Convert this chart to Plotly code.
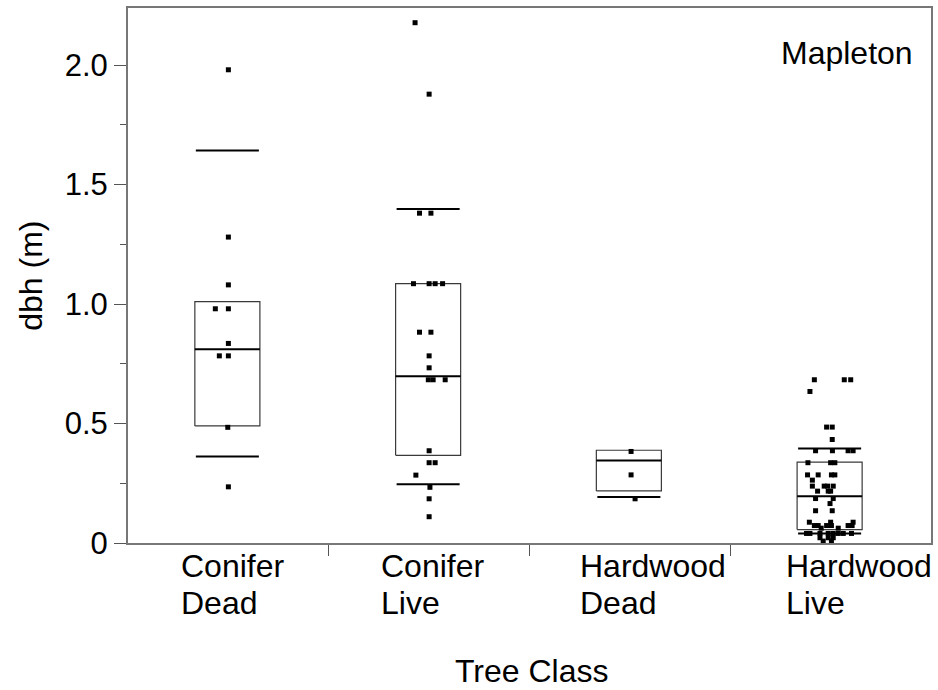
import plotly.graph_objects as go

# ---------------- data ----------------
categories = ["Conifer Dead", "Conifer Live", "Hardwood Dead", "Hardwood Live"]
label_line1 = ["Conifer", "Conifer", "Hardwood", "Hardwood"]
label_line2 = ["Dead", "Live", "Dead", "Live"]

conifer_dead = [1.98, 1.28, 1.08, 0.98, 0.98, 0.835, 0.783, 0.783, 0.484, 0.235]
conifer_dead_jitter = [0.0, 0.0, 0.0, -0.065, 0.0, 0.0, -0.045, 0.0, -0.003, 0.0]

conifer_live = [2.177, 1.878, 1.38, 1.38, 1.085, 1.085, 1.085, 1.085, 0.882, 0.882,
                0.783, 0.733, 0.683, 0.683, 0.683, 0.386, 0.336, 0.336, 0.284,
                0.233, 0.185, 0.11]
conifer_live_jitter = [-0.07, 0.0, -0.048, 0.009, -0.078, 0.0, 0.03, 0.067, -0.048, 0.009,
                       0.0, 0.0, -0.004, 0.02, 0.08, 0.0, 0.0, 0.03, -0.066,
                       0.004, 0.0, 0.0]

hardwood_dead = [0.383, 0.285, 0.185]
hardwood_dead_jitter = [0.006, 0.006, 0.026]

hardwood_live = [0.683, 0.683, 0.683, 0.634, 0.485, 0.485, 0.433,
                 0.386, 0.386, 0.386, 0.386, 0.336, 0.336, 0.336,
                 0.285, 0.285, 0.285, 0.285, 0.263,
                 0.238, 0.238, 0.238, 0.238, 0.217, 0.217, 0.217,
                 0.186, 0.186, 0.165, 0.135, 0.135,
                 0.087, 0.087, 0.087,
                 0.073, 0.073, 0.073, 0.073, 0.073, 0.073,
                 0.062, 0.062,
                 0.04, 0.04, 0.04, 0.04, 0.04, 0.04, 0.04, 0.04,
                 0.022, 0.022, 0.022, 0.008, 0.008]
hardwood_live_jitter = [-0.081, 0.068, 0.1, -0.103, -0.02, 0.008, 0.008,
                        -0.075, 0.009, 0.087, 0.112, -0.113, 0.0, 0.021,
                        -0.115, -0.062, 0.004, 0.021, -0.091,
                        -0.091, -0.032, -0.015, 0.013, -0.065, -0.012, 0.0,
                        -0.075, 0.013, -0.003, -0.075, 0.008,
                        -0.106, 0.0, 0.112,
                        -0.081, -0.062, -0.02, 0.004, 0.087, 0.107,
                        -0.047, 0.038,
                        -0.12, -0.103, -0.053, -0.012, 0.013, 0.038, 0.063, 0.104,
                        -0.053, -0.012, 0.013, -0.037, 0.004]

p10 = [0.362, 0.246, 0.192, 0.040]
q1 = [0.490, 0.367, 0.218, 0.056]
median = [0.811, 0.698, 0.345, 0.196]
q3 = [1.010, 1.085, 0.388, 0.338]
p90 = [1.642, 1.397, None, 0.395]

y_tick_vals = [0, 0.5, 1.0, 1.5, 2.0]
y_tick_text = ["0", "0.5", "1.0", "1.5", "2.0"]
y_minor_vals = [0.25, 0.75, 1.25, 1.75]

site_label = "Mapleton"
x_title = "Tree Class"
y_title = "dbh (m)"

# ---------------- figure ----------------
FONT = "Liberation Sans, Arial, Helvetica, sans-serif"
HW = 0.162  # half width of boxes in category units
LABEL_SHIFT = [-49, -50, -52, -47]  # px offsets of category label left edges
PLOT_H = 535  # plot-area height in px
FIG_W, FIG_H = 938, 690
TOP = 8

values = [conifer_dead, conifer_live, hardwood_dead, hardwood_live]
jitters = [conifer_dead_jitter, conifer_live_jitter, hardwood_dead_jitter, hardwood_live_jitter]

fig = go.Figure()

for i in range(len(categories)):
    c = i - 0.005
    fig.add_trace(go.Scatter(
        x=[c - HW, c + HW, c + HW, c - HW, c - HW],
        y=[q1[i], q1[i], q3[i], q3[i], q1[i]],
        mode="lines", line=dict(color="#3a3a3a", width=1.2),
        hoverinfo="skip", showlegend=False))
    fig.add_trace(go.Scatter(
        x=[c - HW, c + HW], y=[median[i], median[i]],
        mode="lines", line=dict(color="black", width=2),
        hoverinfo="skip", showlegend=False))
    for pv in (p10[i], p90[i]):
        if pv is None:
            continue
        fig.add_trace(go.Scatter(
            x=[c - HW + 0.005, c + HW - 0.005], y=[pv, pv],
            mode="lines", line=dict(color="black", width=2),
            hoverinfo="skip", showlegend=False))

for i in range(len(categories)):
    fig.add_trace(go.Scatter(
        x=[i + j for j in jitters[i]], y=values[i],
        mode="markers", name=categories[i],
        marker=dict(symbol="square", size=5, color="black", line=dict(width=0)),
        cliponaxis=False, showlegend=False))


def py(px_below_axis):
    """paper y for a pixel distance measured downward from the x axis"""
    return -px_below_axis / PLOT_H


annotations = []
for i in range(len(categories)):
    annotations.append(dict(x=i, xref="x", y=py(23), yref="paper",
                            text=label_line1[i], showarrow=False, xanchor="left",
                            yanchor="middle", xshift=LABEL_SHIFT[i],
                            font=dict(family=FONT, size=32, color="black")))
    annotations.append(dict(x=i, xref="x", y=py(60), yref="paper",
                            text=label_line2[i], showarrow=False, xanchor="left",
                            yanchor="middle", xshift=LABEL_SHIFT[i],
                            font=dict(family=FONT, size=32, color="black")))

annotations.append(dict(x=0.5, xref="paper", y=py(128), yref="paper",
                        text=x_title, showarrow=False, xanchor="center", yanchor="middle",
                        xshift=2, font=dict(family=FONT, size=32, color="black")))
annotations.append(dict(x=-98 / 805, xref="paper", y=0.5, yref="paper",
                        text=y_title, showarrow=False, textangle=-90,
                        xanchor="center", yanchor="middle",
                        font=dict(family=FONT, size=32, color="black")))
annotations.append(dict(x=789 / 805, xref="paper", y=1 - 45 / PLOT_H, yref="paper",
                        text=site_label, showarrow=False, xanchor="right", yanchor="middle",
                        font=dict(family=FONT, size=32, color="black")))

fig.update_layout(
    width=FIG_W, height=FIG_H,
    margin=dict(l=128, r=5, t=TOP, b=FIG_H - TOP - PLOT_H),
    paper_bgcolor="white", plot_bgcolor="white",
    font=dict(family=FONT, size=31, color="black"),
    showlegend=False,
    annotations=annotations,
    xaxis=dict(range=[-0.5, 3.5], tickvals=[0.5, 1.5, 2.5], ticktext=["", "", ""],
               ticks="outside", ticklen=11, tickwidth=1.2, tickcolor="#555",
               showline=True, linecolor="#777", linewidth=2, mirror=True,
               showgrid=False, zeroline=False, fixedrange=True),
    yaxis=dict(range=[0, PLOT_H / 239.0], tickvals=y_tick_vals, ticktext=y_tick_text,
               ticks="outside", ticklen=12, tickwidth=1.2, tickcolor="#555",
               tickfont=dict(family=FONT, size=31, color="black"),
               minor=dict(tickvals=y_minor_vals, ticks="outside", ticklen=6,
                          tickwidth=1.2, tickcolor="#555", showgrid=False),
               showline=True, linecolor="#777", linewidth=2, mirror=True,
               showgrid=False, zeroline=False, fixedrange=True),
)

fig.write_html(
    "out.html",
    config={"displayModeBar": False},
    post_script=("document.body.style.margin='0';"
                 "document.documentElement.style.overflow='hidden';"),
)
